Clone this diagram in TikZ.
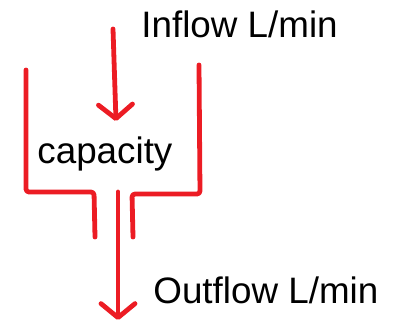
\documentclass[tikz,border=0pt]{standalone}
\usepackage{fontspec}
\setmainfont{Liberation Sans}
\usepackage{tikz}
\usetikzlibrary{arrows.meta}
\definecolor{penred}{RGB}{236,28,36}

\begin{document}
\begin{tikzpicture}[x=0.5pt,y=-0.5pt,
   wall/.style={draw=penred,line width=2.4pt,line cap=round,line join=round,rounded corners=1.5pt},
   flow/.style={draw=penred,line width=2.4pt,line cap=round,-{Straight Barb[length=7pt,width=17pt,round]}},
   lbl/.style={anchor=base west,inner sep=0pt,font=\fontsize{18.4pt}{22pt}\selectfont}]
  \useasboundingbox (0,0) rectangle (406,323);
  % tank walls with the outlet pipe
  \draw[wall] (26,70) -- (26,192) -- (94,192) -- (95,237);
  \draw[wall] (199,65) -- (200,194) -- (132,194) -- (133,237);
  % inflow and outflow
  \coordinate (inTop) at (113,29);
  \coordinate (inEnd) at (116,121);
  \coordinate (outTop) at (118,192);
  \coordinate (outEnd) at (118,320);
  \draw[flow] (inTop) -- (inEnd);
  \draw[flow] (outTop) -- (outEnd);
  % labels
  \node[lbl] (inflow) at (141,37) {Inflow L/min};
  \node[lbl] (cap) at (37,163) {capacity};
  \node[lbl] (outflow) at (153,303) {Outflow L/min};
\end{tikzpicture}
\end{document}
